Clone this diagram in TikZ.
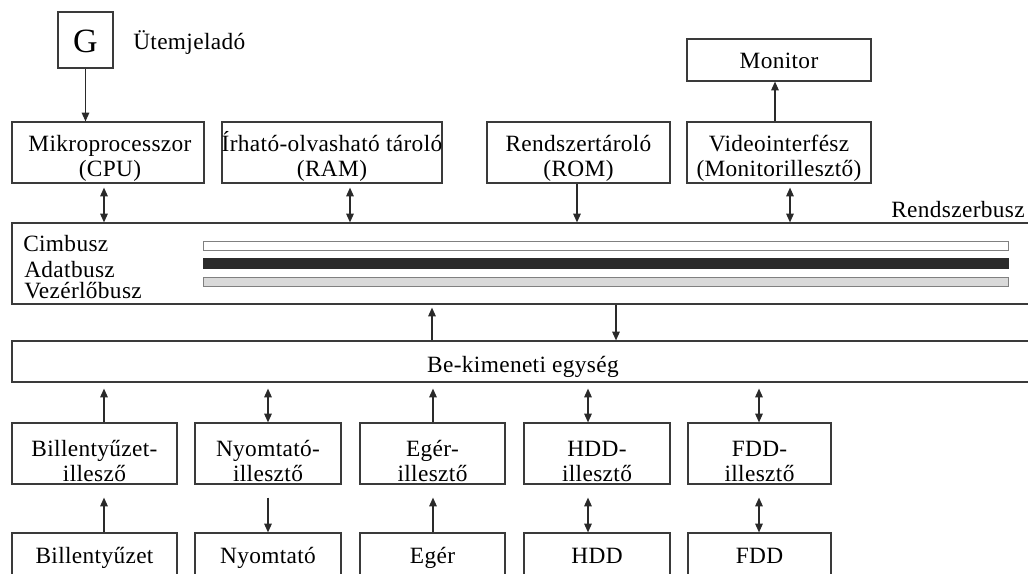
\documentclass[tikz,border=0pt]{standalone}
\usepackage{fontspec}
\setmainfont{Liberation Serif}[LetterSpace=1.5]
\usetikzlibrary{arrows.meta}
\definecolor{boxc}{HTML}{3A3A3A}
\definecolor{linec}{HTML}{2A2A2A}
\definecolor{barc}{HTML}{2B2B2B}
\definecolor{barl}{HTML}{D9D9D9}
\definecolor{barb}{HTML}{808080}
\begin{document}
\begin{tikzpicture}[x=0.75pt,y=-0.75pt,
  font=\fontsize{17.5}{20}\selectfont,
  bx/.style={draw=boxc, line width=0.9pt, inner sep=0pt},
  t/.style={inner sep=0pt, text=black, anchor=base},
  arr/.style={draw=linec, line width=0.9pt, -{Triangle[length=6.5pt,width=5.6pt]}},
  dbl/.style={draw=linec, line width=0.9pt, {Triangle[length=6.5pt,width=5.6pt]}-{Triangle[length=6.5pt,width=5.6pt]}},
  bar/.style={draw=barb, line width=0.75pt, inner sep=0pt, minimum width=603.75pt}]
\useasboundingbox (0,0) rectangle (1028,574);
\clip (0,0) rectangle (1028,574);
% top
\node[bx, minimum width=41.25pt, minimum height=42pt] (g) at (85.5,40) {};
\node[t, font=\fontsize{25.5}{28}\selectfont] (gt) at (85.5,53) {G};
\node[t, anchor=base west] (utem) at (133,50) {Ütemjeladó};
\node[bx, minimum width=138pt, minimum height=31.5pt] (mon) at (779,60) {};
\node[t] (mont) at (779,69) {Monitor};
\node[bx, minimum width=144pt, minimum height=45.75pt] (cpu) at (108,152.5) {};
\node[t] (cpu1) at (110,152) {Mikroprocesszor};
\node[t] (cpu2) at (110,176) {(CPU)};
\node[bx, minimum width=165pt, minimum height=45.75pt] (ram) at (332,152.5) {};
\node[t] (ram1) at (332,152) {Írható-olvasható tároló};
\node[t] (ram2) at (332,176) {(RAM)};
\node[bx, minimum width=137.25pt, minimum height=45.75pt] (rom) at (578.5,152.5) {};
\node[t] (rom1) at (578.5,152) {Rendszertároló};
\node[t] (rom2) at (578.5,176) {(ROM)};
\node[bx, minimum width=138pt, minimum height=45.75pt] (vid) at (779,152.5) {};
\node[t] (vid1) at (779,152) {Videointerfész};
\node[t] (vid2) at (779,176) {(Monitorillesztő)};
% bus
\node[t, anchor=base east] (rbus) at (1025,218) {Rendszerbusz};
\node[bx, minimum width=778.5pt, minimum height=60.75pt] (bus) at (531,263.5) {};
\node[t, anchor=base west] (cim) at (23,252) {Cimbusz};
\node[t, anchor=base west] (adat) at (24,277) {Adatbusz};
\node[t, anchor=base west] (vez) at (24,298) {Vezérlőbusz};
\node[bar, fill=white, minimum height=6.75pt] (cimbar) at (605.5,245.5) {};
\node[bar, draw=barc, fill=barc, minimum height=7.5pt] (adatbar) at (605.5,263) {};
\node[bar, fill=barl, minimum height=6.75pt] (vezbar) at (605.5,281.5) {};
% io
\node[bx, minimum width=778.5pt, minimum height=30.75pt] (io) at (531,361.5) {};
\node[t] (iot) at (523,372) {Be-kimeneti egység};
% adapters
\node[bx, minimum width=123.75pt, minimum height=45.75pt] (a1) at (94.5,453.5) {};
\node[t] (a1a) at (94.5,456) {Billentyűzet-};
\node[t] (a1b) at (94.5,481) {illesző};
\node[bx, minimum width=109.5pt, minimum height=45.75pt] (a2) at (268,453.5) {};
\node[t] (a2a) at (268,456) {Nyomtató-};
\node[t] (a2b) at (268,481) {illesztő};
\node[bx, minimum width=108.75pt, minimum height=45.75pt] (a3) at (432.5,453.5) {};
\node[t] (a3a) at (432.5,456) {Egér-};
\node[t] (a3b) at (432.5,481) {illesztő};
\node[bx, minimum width=109.5pt, minimum height=45.75pt] (a4) at (597,453.5) {};
\node[t] (a4a) at (597,456) {HDD-};
\node[t] (a4b) at (597,481) {illesztő};
\node[bx, minimum width=107.25pt, minimum height=45.75pt] (a5) at (759.5,453.5) {};
\node[t] (a5a) at (759.5,456) {FDD-};
\node[t] (a5b) at (759.5,481) {illesztő};
% devices
\node[bx, minimum width=123.75pt, minimum height=50.25pt] (d1) at (94.5,566.5) {};
\node[t] (d1t) at (94.5,563) {Billentyűzet};
\node[bx, minimum width=109.5pt, minimum height=50.25pt] (d2) at (268,566.5) {};
\node[t] (d2t) at (268,563) {Nyomtató};
\node[bx, minimum width=108.75pt, minimum height=50.25pt] (d3) at (432.5,566.5) {};
\node[t] (d3t) at (432.5,563) {Egér};
\node[bx, minimum width=109.5pt, minimum height=50.25pt] (d4) at (597,566.5) {};
\node[t] (d4t) at (597,563) {HDD};
\node[bx, minimum width=107.25pt, minimum height=50.25pt] (d5) at (759.5,566.5) {};
\node[t] (d5t) at (759.5,563) {FDD};
% connectors
\draw[arr] (g.south) -- (g.south |- cpu.north);
\draw[arr] (775,0 |- vid.north) -- (775,0 |- mon.south);
\draw[dbl, shorten <=3pt] (104,0 |- cpu.south) -- (104,0 |- bus.north);
\draw[dbl, shorten <=3pt] (350,0 |- ram.south) -- (350,0 |- bus.north);
\draw[arr] (577,0 |- rom.south) -- (577,0 |- bus.north);
\draw[dbl, shorten <=3pt] (790,0 |- vid.south) -- (790,0 |- bus.north);
\draw[arr, shorten >=2.25pt] (432,0 |- io.north) -- (432,0 |- bus.south);
\draw[arr] (616,0 |- bus.south) -- (616,0 |- io.north);
\draw[arr, shorten >=4.5pt] (104,0 |- a1.north) -- (104,0 |- io.south);
\draw[dbl, shorten <=4.5pt] (268,0 |- io.south) -- (268,0 |- a2.north);
\draw[arr, shorten >=4.5pt] (433,0 |- a3.north) -- (433,0 |- io.south);
\draw[dbl, shorten <=4.5pt] (588,0 |- io.south) -- (588,0 |- a4.north);
\draw[dbl, shorten <=4.5pt] (759,0 |- io.south) -- (759,0 |- a5.north);
\draw[arr, shorten >=9.75pt] (104,0 |- d1.north) -- (104,0 |- a1.south);
\draw[arr, shorten <=9.75pt] (268,0 |- a2.south) -- (268,0 |- d2.north);
\draw[arr, shorten >=9.75pt] (433,0 |- d3.north) -- (433,0 |- a3.south);
\draw[dbl, shorten <=9.75pt] (588,0 |- a4.south) -- (588,0 |- d4.north);
\draw[dbl, shorten <=9.75pt] (759,0 |- a5.south) -- (759,0 |- d5.north);
\end{tikzpicture}
\end{document}
